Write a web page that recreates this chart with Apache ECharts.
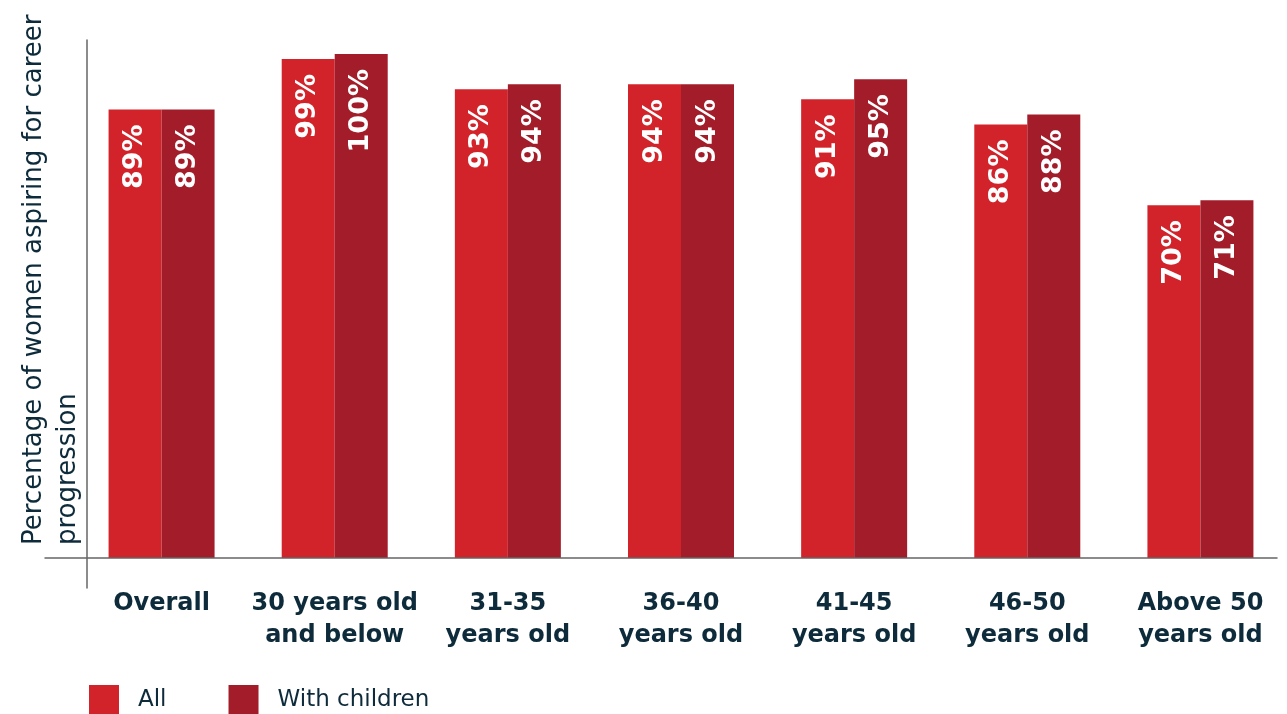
<!DOCTYPE html>
<html>
<head>
<meta charset="utf-8">
<script src="https://cdn.jsdelivr.net/npm/echarts@6/dist/echarts.min.js"></script>
<style>
html,body{margin:0;padding:0;background:#fff;}
#chart{width:1287px;height:714px;}
</style>
</head>
<body>
<div id="chart"></div>
<script>
var categories = ['Overall', '30 years old\nand below', '31-35\nyears old', '36-40\nyears old', '41-45\nyears old', '46-50\nyears old', 'Above 50\nyears old'];
var allValues = [89, 99, 93, 94, 91, 86, 70];
var childrenValues = [89, 100, 94, 94, 95, 88, 71];
var seriesNames = ['All', 'With children'];
var yAxisTitle = 'Percentage of women aspiring for career\nprogression';

var textColor = '#0d2b3a';
var chart = echarts.init(document.getElementById('chart'), null, {renderer: 'canvas'});

function barLabel() {
  return {
    show: true,
    position: 'insideTop',
    rotate: 90,
    align: 'right',
    verticalAlign: 'middle',
    distance: 15,
    formatter: '{c}%',
    color: '#ffffff',
    fontFamily: 'DejaVu Sans',
    fontWeight: 'bold',
    fontSize: 27
  };
}

chart.setOption({
  animation: false,
  backgroundColor: '#ffffff',
  grid: [
    {left: 75, width: 1233, top: 54, bottom: 156, containLabel: false},
    {left: 45, right: 10, top: 40, bottom: 126, containLabel: false}
  ],
  legend: {
    data: seriesNames,
    left: 89,
    top: 685,
    padding: 0,
    icon: 'rect',
    itemWidth: 30,
    itemHeight: 30,
    itemGap: 62,
    textStyle: {color: textColor, fontFamily: 'DejaVu Sans', fontSize: 23, padding: [0, 0, 0, 14]}
  },
  xAxis: [
    {
      type: 'category', gridIndex: 0, data: categories,
      axisLine: {show: false}, axisTick: {show: false},
      axisLabel: {
        interval: 0, margin: 30, color: textColor,
        fontFamily: 'DejaVu Sans', fontWeight: 'bold', fontSize: 24, lineHeight: 32
      }
    },
    {
      type: 'value', gridIndex: 1, min: -42, max: 1190, z: 10,
      axisLine: {show: true, onZero: true, lineStyle: {color: '#666', width: 1.5}},
      axisTick: {show: false}, axisLabel: {show: false}, splitLine: {show: false}
    }
  ],
  yAxis: [
    {
      type: 'value', gridIndex: 0, min: 0, max: 100,
      axisLine: {show: false}, axisTick: {show: false}, axisLabel: {show: false}, splitLine: {show: false}
    },
    {
      type: 'value', gridIndex: 1, min: -30, max: 518, z: 10,
      axisLine: {show: true, onZero: true, lineStyle: {color: '#666', width: 1.5}},
      axisTick: {show: false}, axisLabel: {show: false}, splitLine: {show: false}
    }
  ],
  graphic: [{
    type: 'text',
    x: 17, y: 545,
    rotation: Math.PI / 2,
    style: {
      text: yAxisTitle,
      fill: textColor,
      font: '26px "DejaVu Sans"',
      textAlign: 'left',
      textVerticalAlign: 'top',
      lineHeight: 34
    }
  }],
  series: [
    {
      name: seriesNames[0], type: 'bar', xAxisIndex: 0, yAxisIndex: 0,
      data: allValues, barWidth: 53, barGap: '0%',
      itemStyle: {color: '#d2232b'}, label: barLabel()
    },
    {
      name: seriesNames[1], type: 'bar', xAxisIndex: 0, yAxisIndex: 0,
      data: childrenValues, barWidth: 53, barGap: '0%',
      itemStyle: {color: '#a21c29'}, label: barLabel()
    }
  ]
});
</script>
</body>
</html>
